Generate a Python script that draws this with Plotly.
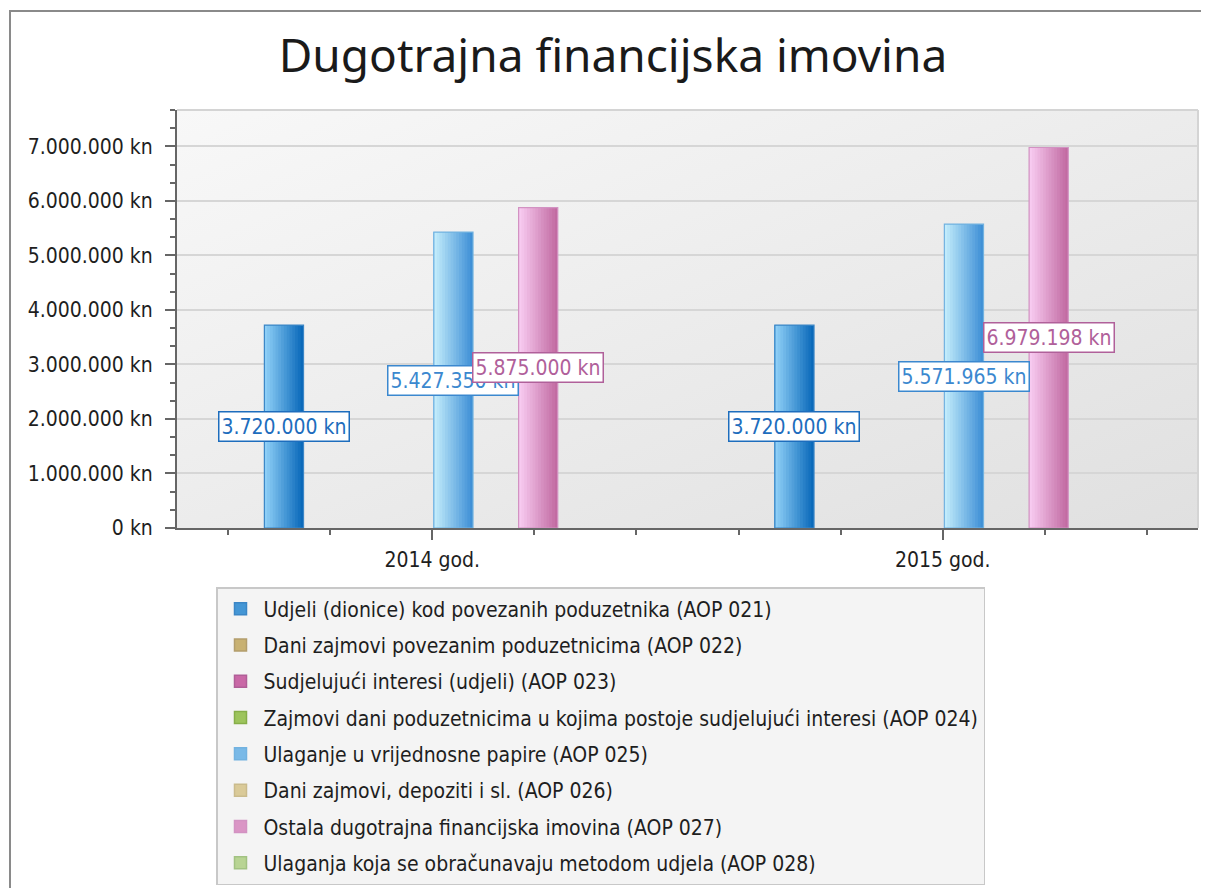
import base64
import plotly.graph_objects as go

# ---------------- data ----------------
categories = ["2014 god.", "2015 god."]
series_names = [
    "Udjeli (dionice) kod povezanih poduzetnika (AOP 021)",
    "Dani zajmovi povezanim poduzetnicima (AOP 022)",
    "Sudjelujući interesi (udjeli) (AOP 023)",
    "Zajmovi dani poduzetnicima u kojima postoje sudjelujući interesi (AOP 024)",
    "Ulaganje u vrijednosne papire (AOP 025)",
    "Dani zajmovi, depoziti i sl. (AOP 026)",
    "Ostala dugotrajna financijska imovina (AOP 027)",
    "Ulaganja koja se obračunavaju metodom udjela (AOP 028)",
]
aop021 = [3720000, 3720000]
aop022 = [None, None]
aop023 = [None, None]
aop024 = [None, None]
aop025 = [5427350, 5571965]
aop026 = [None, None]
aop027 = [5875000, 6979198]
aop028 = [None, None]
series_values = [aop021, aop022, aop023, aop024, aop025, aop026, aop027, aop028]

# ---------------- styles ----------------
light_colors = ["#92d2f8", "#f3de9c", "#f59ad9", "#daf394", "#c6effc", "#f9f3cb", "#f9cef3", "#f3f9cb"]
dark_colors = ["#0565b8", "#a48c50", "#a5407d", "#6b9d2e", "#3a8cd5", "#c0a86e", "#c0679f", "#88b666"]
border_colors = ["#3b86c6", "#b29d6c", "#b05e97", "#86ae48", "#72b2e0", "#cabb8c", "#d292c2", "#a2c282"]
label_text_colors = ["#1d6dbd", "#8c7440", "#a0407e", "#5a8a28", "#3b88cf", "#a89050", "#b0609a", "#70a050"]

FONT = "DejaVu Sans Condensed, DejaVu Sans, sans-serif"
OFF = 8                     # page body margin
W_FIG, H_FIG = 1209 - 2 * OFF, 896 - 2 * OFF
PLOT_L, PLOT_R, PLOT_T, PLOT_B = 177, 1198, 110, 528   # reference screen px
ML = PLOT_L - OFF
MT = PLOT_T - OFF
MR = W_FIG - (PLOT_R - OFF)
MB = H_FIG - (PLOT_B - OFF)
PW, PH = PLOT_R - PLOT_L, PLOT_B - PLOT_T

SLOT = 0.083      # category units per series slot
BARW = 0.0767     # bar width in category units
NSTRIP = 14
x_idx = list(range(len(categories)))


def hex2rgb(h):
    h = h.lstrip("#")
    return [int(h[i:i + 2], 16) for i in (0, 2, 4)]


def lerp(c1, c2, t):
    a, b = hex2rgb(c1), hex2rgb(c2)
    return "rgb(%d,%d,%d)" % tuple(round(a[i] + (b[i] - a[i]) * t) for i in range(3))


def fmt(v):
    return f"{v:,.0f}".replace(",", ".") + " kn"


def px_x(px):
    return (px - PLOT_L) / PW


def px_y(py):
    return (PLOT_B - py) / PH


fig = go.Figure()
nser = len(series_names)

# legend entries
for i, name in enumerate(series_names):
    fig.add_trace(go.Bar(
        x=x_idx, y=[None] * len(x_idx), name=name, legendgroup=name,
        marker=dict(color=lerp(light_colors[i], dark_colors[i], 0.55),
                    line=dict(color=border_colors[i], width=1.5)),
        showlegend=True, hoverinfo="skip"))

# bars drawn as overlapping strips (light -> dark gradient)
for i, (name, vals) in enumerate(zip(series_names, series_values)):
    center = (i - (nser - 1) / 2) * SLOT
    left = center - BARW / 2
    for k in range(NSTRIP):
        width = BARW * (NSTRIP - k) / NSTRIP
        p = (NSTRIP - k - 0.5) / NSTRIP
        fig.add_trace(go.Bar(
            x=x_idx, y=vals, name=name, legendgroup=name, showlegend=False,
            width=width, offset=left,
            marker=dict(color=lerp(light_colors[i], dark_colors[i], p), line=dict(width=0)),
            hovertemplate="%{y:,.0f} kn<extra>" + name + "</extra>"))
    fig.add_trace(go.Bar(
        x=x_idx, y=vals, name=name, legendgroup=name, showlegend=False,
        width=BARW, offset=left, hoverinfo="skip",
        marker=dict(color="rgba(0,0,0,0)", line=dict(color=border_colors[i], width=1.2))))

# value labels at half bar height
annotations = []
for i, vals in enumerate(series_values):
    center = (i - (nser - 1) / 2) * SLOT
    for j, v in enumerate(vals):
        if v is None:
            continue
        annotations.append(dict(
            x=x_idx[j] + center, y=v / 2, xref="x", yref="y", text=fmt(v),
            showarrow=False, font=dict(family=FONT, size=21, color=label_text_colors[i]),
            bgcolor="white", bordercolor=label_text_colors[i], borderwidth=1.5, borderpad=2,
            xanchor="center", yanchor="middle"))

# plot-area gradient background
svg = ('<svg xmlns="http://www.w3.org/2000/svg" width="200" height="200" preserveAspectRatio="none">'
       '<defs><linearGradient id="g" x1="0" y1="0" x2="1" y2="1">'
       '<stop offset="0" stop-color="#f8f8f8"/><stop offset="1" stop-color="#e0e0e0"/>'
       '</linearGradient></defs><rect width="200" height="200" fill="url(#g)"/></svg>')
bg_src = "data:image/svg+xml;base64," + base64.b64encode(svg.encode()).decode()

shapes = [
    # outer frame
    dict(type="rect", xref="paper", yref="paper", x0=px_x(10), x1=px_x(1240),
         y0=px_y(930), y1=px_y(11), line=dict(color="#8a8a8a", width=2), fillcolor="rgba(0,0,0,0)",
         layer="below"),
    # plot area top / right border
    dict(type="line", xref="paper", yref="paper", x0=0, x1=1, y0=1, y1=1,
         line=dict(color="#d4d4d4", width=2)),
    dict(type="line", xref="paper", yref="paper", x0=1, x1=1, y0=0, y1=1,
         line=dict(color="#d4d4d4", width=2)),
]

fig.update_layout(
    width=W_FIG, height=H_FIG,
    margin=dict(l=ML, r=MR, t=MT, b=MB, pad=0, autoexpand=False),
    paper_bgcolor="white", plot_bgcolor="rgba(0,0,0,0)",
    barmode="overlay",
    separators=",.",
    font=dict(family=FONT, size=21, color="#1e1e1e"),
    title=dict(text="Dugotrajna financijska imovina", xref="container", yref="container",
               x=(613 - OFF) / W_FIG, y=1 - 48 / H_FIG, xanchor="center", yanchor="middle",
               font=dict(family="Noto Sans, sans-serif", size=46, color="#1a1a1a")),
    images=[dict(source=bg_src, xref="paper", yref="paper", x=0, y=1, sizex=1, sizey=1,
                 xanchor="left", yanchor="top", sizing="stretch", layer="below")],
    shapes=shapes,
    annotations=annotations,
    showlegend=True,
    legend=dict(x=px_x(216), y=px_y(587), xanchor="left", yanchor="top",
                bgcolor="#f4f4f4", bordercolor="#c8c8c8", borderwidth=1.5,
                font=dict(family=FONT, size=21, color="#1e1e1e"),
                tracegroupgap=6, itemwidth=36, traceorder="grouped"),
    hovermode="closest",
)

fig.update_xaxes(
    range=[-0.5, 1.5], tickmode="array", tickvals=x_idx, ticktext=categories,
    ticks="outside", ticklen=10, tickwidth=1.5, tickcolor="#666666",
    showline=True, linecolor="#666666", linewidth=2, showgrid=False, zeroline=False,
    tickfont=dict(family=FONT, size=21, color="#1e1e1e"), ticklabelstandoff=2,
    minor=dict(tickmode="linear", tick0=0, dtick=0.2, ticks="outside", ticklen=5,
               tickwidth=1.5, tickcolor="#666666", showgrid=False),
)
fig.update_yaxes(
    range=[0, 7666667], tickmode="linear", tick0=0, dtick=1000000,
    tickformat=",.0f", ticksuffix=" kn",
    ticks="outside", ticklen=10, tickwidth=1.5, tickcolor="#666666",
    showline=True, linecolor="#666666", linewidth=2,
    showgrid=True, gridcolor="#d6d6d6", gridwidth=1.5, zeroline=False,
    tickfont=dict(family=FONT, size=21, color="#1e1e1e"), ticklabelstandoff=8,
    minor=dict(tickmode="linear", tick0=0, dtick=1000000 / 3, ticks="outside", ticklen=5,
               tickwidth=1.5, tickcolor="#666666", showgrid=False),
)

fig.write_html("out.html")
